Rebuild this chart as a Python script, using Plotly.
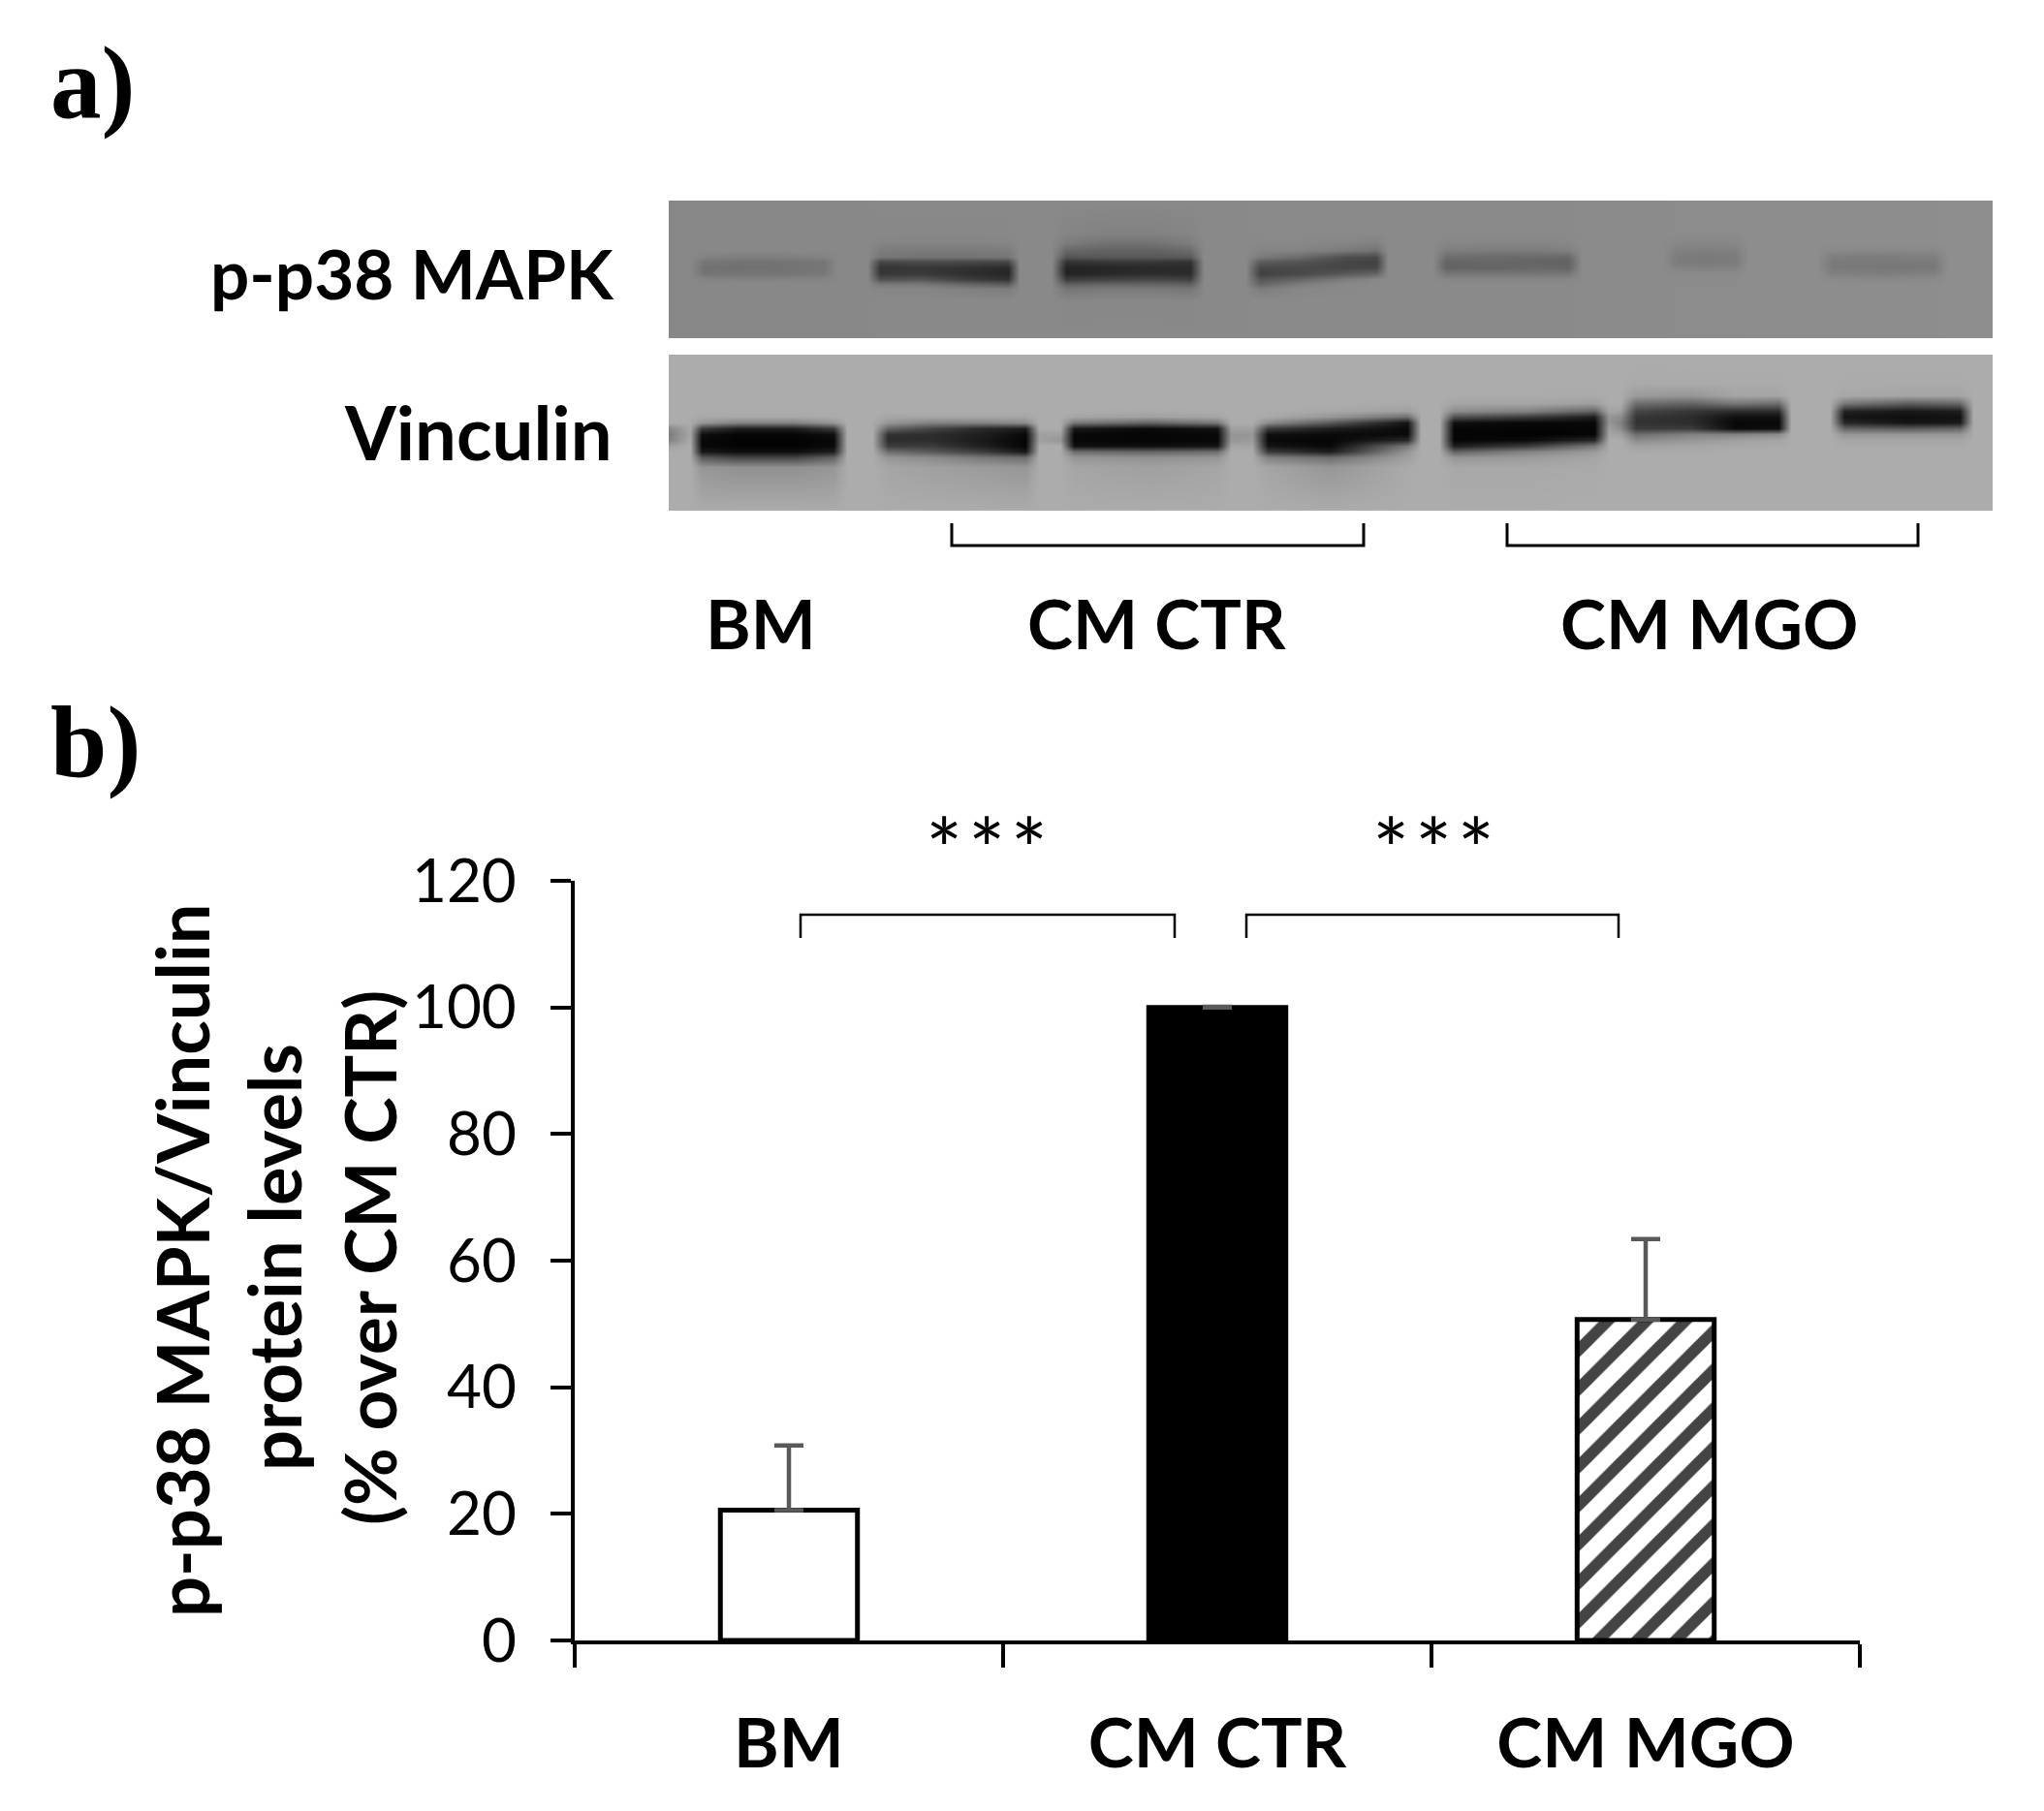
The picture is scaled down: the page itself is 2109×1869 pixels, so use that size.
import plotly.graph_objects as go

W, H = 2109, 1869
PAGE_MARGIN = 8  # the page body keeps its default margin round the plot

# Bar chart data
categories = ["BM", "CM CTR", "CM MGO"]
values = [20.6, 100, 50.7]
errors = [10.2, 0.1, 12.7]
y_ticks = [0, 20, 40, 60, 80, 100, 120]

# Blot grey levels (0 black, 255 white)
# p-p38 MAPK blot: column and row centres in image pixels
pp38_x = [690, 712, 726, 760, 800, 850, 864, 895, 908, 950, 1000, 1040, 1052, 1085,
          1100, 1140, 1190, 1228, 1242, 1285, 1300, 1340, 1390, 1420, 1432, 1478, 1492,
          1540, 1590, 1618, 1632, 1715, 1730, 1760, 1790, 1804, 1875, 1890, 1940, 1996,
          2010, 2056]
pp38_y = [207, 240, 250, 258, 265, 270, 276, 282, 288, 293, 298, 310, 349]
pp38_z = [
    [136,136, 136,136,136,136, 136,136, 137,137,137,137, 137,137, 137,137,137,137, 137,137, 138,138,138,138, 138,138, 138,138,138,138, 139,139, 140,140,140, 141,141, 141,141,141, 142,142],
    [136,136, 136,136,136,136, 136,136, 136,136,136,136, 137,137, 133,130,130,133, 137,137, 138,138,138,138, 138,138, 138,138,138,138, 139,139, 140,140,140, 141,141, 141,141,141, 142,142],
    [136,136, 136,136,136,136, 136,136, 133,132,132,134, 137,137, 125,116,116,126, 137,137, 136,136,134,130, 138,138, 135,134,134,136, 139,139, 136,134,136, 141,141, 141,141,141, 142,142],
    [136,136, 136,136,136,136, 136,136, 124,122,122,124, 137,137, 105,98,98,108, 137,137, 132,132,122,115, 138,138, 126,124,124,128, 139,139, 128,126,128, 141,141, 137,136,137, 142,142],
    [136,136, 130,126,126,130, 136,136, 118,115,115,118, 137,137, 85,88,88,90, 137,137, 122,108,78,74, 138,138, 110,106,106,104, 139,139, 124,122,124, 141,141, 125,124,126, 142,142],
    [136,136, 118,116,116,118, 136,136, 70,75,72,70, 137,137, 50,55,55,50, 137,137, 92,84,70,66, 138,138, 100,104,100,98, 139,139, 124,122,124, 141,141, 122,122,122, 142,142],
    [136,136, 114,112,114,118, 136,136, 52,55,50,42, 137,137, 35,38,42,42, 137,137, 72,74,70,72, 138,138, 100,100,105,100, 139,139, 130,128,130, 141,141, 122,120,120, 142,142],
    [136,136, 116,116,116,120, 136,136, 55,58,45,38, 137,137, 35,40,45,42, 137,137, 65,72,88,100, 138,138, 118,118,118,118, 139,139, 138,138,138, 141,141, 128,125,128, 142,142],
    [136,136, 132,130,130,132, 136,136, 80,85,60,50, 137,137, 60,65,70,65, 137,137, 85,100,125,135, 138,138, 134,134,134,134, 139,139, 139,139,139, 141,141, 138,137,138, 142,142],
    [136,136, 136,136,136,136, 136,136, 120,120,100,90, 137,137, 95,100,100,95, 137,137, 100,125,136,138, 138,138, 138,138,138,138, 139,139, 140,140,140, 141,141, 141,141,141, 142,142],
    [136,136, 136,136,136,136, 136,136, 134,134,128,125, 137,137, 118,122,122,118, 137,137, 125,135,137,138, 138,138, 138,138,138,138, 139,139, 140,140,140, 141,141, 141,141,141, 142,142],
    [136,136, 136,136,136,136, 136,136, 137,137,137,137, 137,137, 135,136,136,135, 137,137, 138,138,138,138, 138,138, 138,138,138,138, 139,139, 140,140,140, 141,141, 141,141,141, 142,142],
    [136,136, 136,136,136,136, 136,136, 137,137,137,137, 137,137, 137,137,137,137, 137,137, 138,138,138,138, 138,138, 138,138,138,138, 139,139, 140,140,140, 141,141, 141,141,141, 142,142],
]

# Vinculin blot
vinc_x = [690, 712, 724, 760, 820, 860, 874, 900, 916, 960, 1015, 1058, 1072, 1094, 1108,
          1185, 1256, 1270, 1292, 1308, 1372, 1452, 1466, 1485, 1500, 1575, 1645, 1660,
          1672, 1688, 1745, 1790, 1835, 1848, 1888, 1903, 1968, 2022, 2036, 2056]
vinc_y = [366, 395, 408, 416, 424, 430, 436, 442, 448, 454, 460, 466, 472, 482, 527]
vinc_z = [
    [172,172, 172,172,172,172, 172,172, 172,172,172,172, 172,172, 172,172,172, 172,172, 172,172,172, 172,172, 172,172,172, 172,172, 172,172,172,172, 172,172, 172,172,172, 172,172],
    [172,172, 172,172,172,172, 172,172, 172,172,172,172, 172,172, 172,172,172, 172,172, 172,172,172, 172,172, 172,172,172, 172,172, 170,171,171,171, 172,172, 171,171,171, 172,172],
    [172,172, 172,172,172,172, 172,172, 172,172,172,172, 172,172, 172,172,172, 172,172, 172,172,172, 172,172, 171,171,170, 172,172, 155,150,165,165, 172,172, 168,165,165, 172,172],
    [172,172, 172,172,172,172, 172,172, 172,172,172,172, 172,172, 172,172,172, 172,172, 172,172,170, 172,172, 165,165,160, 172,172, 110,100,120,110, 172,172, 120,95,105, 172,172],
    [172,172, 172,172,172,172, 172,172, 172,172,172,172, 172,172, 172,170,172, 172,172, 172,168,160, 172,172, 140,130,100, 165,160, 70,55,45,45, 172,172, 35,25,30, 172,172],
    [172,172, 168,168,168,170, 172,172, 165,165,165,165, 172,172, 165,160,165, 172,172, 168,150,110, 172,172, 80,60,30, 150,140, 55,45,15,15, 172,172, 20,15,18, 172,172],
    [172,172, 150,130,130,150, 172,172, 150,130,130,140, 172,172, 120,100,120, 172,172, 140,90,20, 172,172, 15,8,8, 150,130, 50,45,8,8, 172,172, 40,20,25, 172,172],
    [135,168, 60,30,30,60, 172,172, 100,70,40,30, 172,172, 25,10,20, 160,160, 60,30,10, 172,172, 5,5,5, 160,140, 60,60,10,15, 172,172, 100,90,100, 172,172],
    [125,165, 15,5,5,15, 172,172, 50,45,30,8, 160,160, 8,5,8, 150,150, 15,10,10, 172,172, 5,3,5, 165,160, 110,130,130,140, 172,172, 150,150,150, 172,172],
    [130,168, 8,3,3,8, 172,172, 45,45,25,5, 160,150, 8,5,8, 150,155, 10,5,40, 172,172, 5,10,40, 172,172, 140,150,160,165, 172,172, 165,165,165, 172,172],
    [160,172, 8,3,3,10, 172,172, 60,60,30,5, 172,172, 15,15,20, 165,165, 20,8,120, 172,172, 30,60,120, 172,172, 160,165,168,170, 172,172, 170,170,170, 172,172],
    [172,172, 25,15,15,30, 172,172, 110,90,60,25, 172,172, 110,100,110, 172,172, 60,30,150, 172,172, 100,130,155, 172,172, 170,170,172,172, 172,172, 172,172,172, 172,172],
    [172,172, 90,70,70,100, 172,172, 150,140,120,110, 172,172, 150,145,150, 172,172, 130,110,160, 172,172, 150,155,165, 172,172, 172,172,172,172, 172,172, 172,172,172, 172,172],
    [172,172, 150,145,145,150, 172,172, 165,160,155,150, 172,172, 165,160,165, 172,172, 165,150,170, 172,172, 168,168,170, 172,172, 172,172,172,172, 172,172, 172,172,172, 172,172],
    [172,172, 172,172,172,172, 172,172, 172,172,172,172, 172,172, 172,172,172, 172,172, 172,172,172, 172,172, 172,172,172, 172,172, 172,172,172,172, 172,172, 172,172,172, 172,172],
]

FONT = "Lato"
SERIF = "Liberation Serif"

FIG_W, FIG_H = W - 2 * PAGE_MARGIN, H - 2 * PAGE_MARGIN


def px(x):
    return (x - PAGE_MARGIN) / FIG_W


def py(y):
    return 1 - (y - PAGE_MARGIN) / FIG_H


grey = [[0, "#000000"], [1, "#ffffff"]]

fig = go.Figure()

fig.add_trace(go.Bar(
    x=categories, y=values, width=0.32,
    marker=dict(
        color=["#ffffff", "#000000", "#ffffff"],
        line=dict(color="#000000", width=5),
        # plotly makes the "/" tile size*sqrt(2) wide, this gives a whole 40 px
        pattern=dict(shape=["", "", "/"], fgcolor="#000000", bgcolor="#ffffff",
                     fgopacity=1, size=28.2843, solidity=0.42),
    ),
    error_y=dict(type="data", array=errors, symmetric=False, arrayminus=[0, 0, 0],
                 color="#595959", thickness=4.5, width=15),
    hoverinfo="skip", showlegend=False,
))

fig.add_trace(go.Heatmap(x=pp38_x, y=pp38_y, z=pp38_z, xaxis="x2", yaxis="y2",
                         colorscale=grey, zmin=0, zmax=255, zsmooth="best",
                         showscale=False, hoverinfo="skip"))
fig.add_trace(go.Heatmap(x=vinc_x, y=vinc_y, z=vinc_z, xaxis="x3", yaxis="y3",
                         colorscale=grey, zmin=0, zmax=255, zsmooth="best",
                         showscale=False, hoverinfo="skip"))

fig.update_layout(
    width=FIG_W, height=FIG_H,
    margin=dict(l=0, r=0, t=0, b=0),
    autosize=False,
    paper_bgcolor="#ffffff", plot_bgcolor="rgba(0,0,0,0)",
    bargap=0.68,
    xaxis=dict(
        domain=[px(593), px(1919)], type="category", range=[-0.5, 2.5], automargin=False,
        tickson="boundaries", ticks="outside", ticklen=24, tickwidth=3.5, tickcolor="#000000",
        showline=True, linecolor="#000000", linewidth=3.5, showgrid=False,
        tickfont=dict(family=FONT, size=71, color="#000000", weight="bold"),
        ticklabelstandoff=42,
    ),
    yaxis=dict(
        domain=[py(1693), py(909)], range=[0, 120], tickvals=y_ticks, automargin=False,
        ticks="outside", ticklen=21, tickwidth=3.5, tickcolor="#000000",
        showline=True, linecolor="#000000", linewidth=3.5, showgrid=False, zeroline=False,
        tickfont=dict(family=FONT, size=62, color="#000000"),
        ticklabelstandoff=23,
    ),
    xaxis2=dict(domain=[px(690), px(2056)], range=[690, 2056], visible=False, anchor="y2", automargin=False),
    yaxis2=dict(domain=[py(349), py(207)], range=[349, 207], visible=False, anchor="x2", automargin=False),
    xaxis3=dict(domain=[px(690), px(2056)], range=[690, 2056], visible=False, anchor="y3", automargin=False),
    yaxis3=dict(domain=[py(527), py(366)], range=[527, 366], visible=False, anchor="x3", automargin=False),
)


def label(text, x, y, size=71, xanchor="center", family=FONT, bold=True, angle=0):
    fig.add_annotation(
        text=text, x=px(x), y=py(y), xref="paper", yref="paper",
        xanchor=xanchor, yanchor="middle", showarrow=False, textangle=angle,
        font=dict(family=family, size=size, color="#000000",
                  weight="bold" if bold else "normal"),
    )


def bracket(x0, x1, y_end, y_bar, width):
    fig.add_shape(
        type="path", xref="paper", yref="paper",
        path=f"M{px(x0)},{py(y_end)} L{px(x0)},{py(y_bar)} L{px(x1)},{py(y_bar)} L{px(x1)},{py(y_end)}",
        line=dict(color="#000000", width=width),
    )


label("a)", 50, 85, size=105, xanchor="left", family=SERIF)
label("b)", 50, 766, size=105, xanchor="left", family=SERIF)

label("p-p38 MAPK", 636, 281, xanchor="right")
label("Vinculin", 634, 445, size=76, xanchor="right")
label("BM", 785, 642)
label("CM CTR", 1193, 642)
label("CM MGO", 1763, 642)

bracket(982, 1407, 540, 563, 3)
bracket(1555, 1979, 540, 563, 3)

bracket(826, 1212, 968, 944, 2.5)
bracket(1286, 1670, 968, 944, 2.5)
label("*\u200a*\u200a*", 1018, 875, size=90, bold=False)
label("*\u200a*\u200a*", 1479, 875, size=90, bold=False)

label("p-p38 MAPK/Vinculin", 187, 1301, size=74, angle=-90)
label("protein levels", 282, 1298, size=74, angle=-90)
label("(% over CM CTR)", 381, 1298, size=73, angle=-90)

fig.write_html("out.html")
